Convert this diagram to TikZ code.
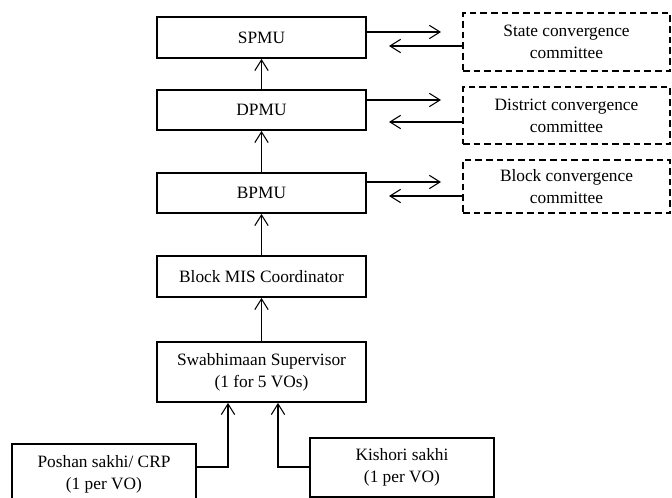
\documentclass[tikz,border=0pt]{standalone}
\usepackage{fontspec}
\setmainfont{Liberation Serif}
\usetikzlibrary{arrows.meta}

\begin{document}
\begin{tikzpicture}[x=0.75pt,y=-0.75pt,
	box/.style={draw, line width=1.4pt, minimum width=156.75pt, minimum height=30.75pt, align=center, font=\fontsize{13}{16.5}\selectfont},
	cbox/.style={draw, dash pattern=on 5pt off 3pt, line width=1.4pt, minimum width=155.25pt, align=center, font=\fontsize{13}{16.5}\selectfont},
	arr/.style={-{Straight Barb[length=8pt,width=10pt]}, line width=0.8pt}]

	\useasboundingbox (0,0) rectangle (672,498);

	\node[box] (spmu) at (261.5,37.5) {SPMU};
	\node[box, minimum height=30pt] (dpmu) at (261.5,110) {DPMU};
	\node[box, minimum height=30pt] (bpmu) at (261.5,193) {BPMU};
	\node[box] (mis) at (261.5,276.5) {Block MIS Coordinator};
	\node[box, minimum height=45pt] (sup) at (261.5,372) {Swabhimaan Supervisor\\(1 for 5 VOs)};

	\node[box, minimum width=138pt, minimum height=45pt] (poshan) at (104,474) {Poshan sakhi/ CRP\\(1 per VO)};
	\node[box, minimum width=138pt, minimum height=44.25pt] (kishori) at (402,467.5) {Kishori sakhi\\(1 per VO)};

	\node[cbox, minimum height=43.5pt] (scc) at (566.5,42) {State convergence\\committee};
	\node[cbox, minimum height=42.75pt] (dcc) at (566.5,115.5) {District convergence\\committee};
	\node[cbox, minimum height=39.75pt] (bcc) at (566.5,186.5) {Block convergence\\committee};

	\foreach \a/\b in {dpmu/spmu, bpmu/dpmu, mis/bpmu, sup/mis}
		\draw[arr] (\a.north) -- (\b.south);

	\foreach \a/\b/\yo/\yb in {spmu/scc/32/46, dpmu/dcc/100/122, bpmu/bcc/182/196}{
		\coordinate (\a-out) at (441,\yo);
		\coordinate (\b-in) at (389,\yb);
		\draw[arr] (\a.east |- \a-out) -- (\a-out);
		\draw[arr] (\b.west |- \b-in) -- (\b-in);
	}

	\coordinate (pj) at (228,467);
	\coordinate (kj) at (278,467);
	\draw[arr] (poshan.east |- pj) -| (pj |- sup.south);
	\draw[arr] (kishori.west |- kj) -| (kj |- sup.south);

\end{tikzpicture}
\end{document}
